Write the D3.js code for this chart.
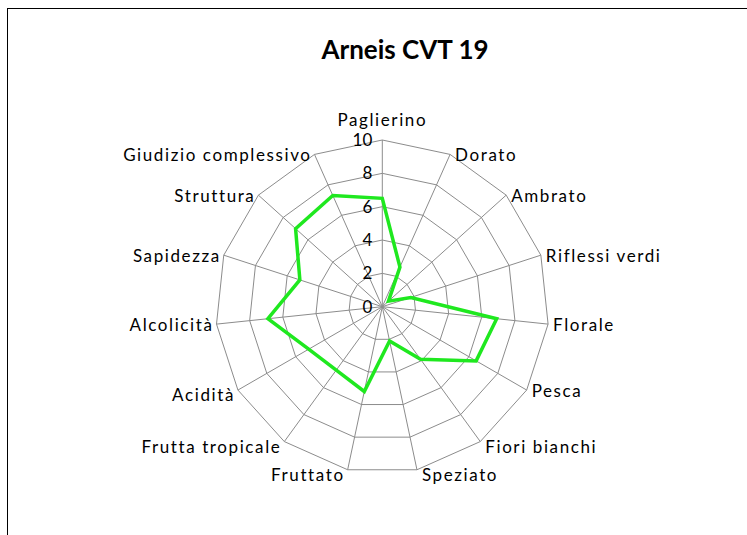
<!DOCTYPE html>
<html>
<head>
<meta charset="utf-8">
<script src="https://cdn.jsdelivr.net/npm/d3@7"></script>
<style>
  body { margin: 0; background: #fff; }
  text { font-family: Lato, "Open Sans", sans-serif; fill: #000; }
</style>
</head>
<body>
<svg width="747" height="535"></svg>
<script>
var categories = ["Paglierino", "Dorato", "Ambrato", "Riflessi verdi", "Florale", "Pesca",
  "Fiori bianchi", "Speziato", "Fruttato", "Frutta tropicale", "Acidità", "Alcolicità",
  "Sapidezza", "Struttura", "Giudizio complessivo"];
var values = [6.5, 2.6, 0.5, 1.8, 6.9, 6.5, 3.9, 2.1, 5.2, 4.7, 5.1, 6.9, 5.2, 7.0, 7.3];
var ticks = [0, 2, 4, 6, 8, 10];
var title = "Arneis CVT 19";

var svg = d3.select("svg"),
    cx = 382.3,
    cy = 306.7,
    radius = 166.7;

// chart border, runs off the right and bottom edges
svg.append("rect")
  .attr("x", 7.5).attr("y", 8.5)
  .attr("width", 800).attr("height", 600)
  .attr("fill", "none").attr("stroke", "#000").attr("stroke-width", 1);

svg.append("text")
  .attr("x", 405).attr("y", 59)
  .attr("text-anchor", "middle")
  .style("font-size", "26px").style("font-weight", "bold")
  .text(title);

var g = svg.append("g").attr("transform", "translate(" + cx + "," + cy + ")");

var angle = d3.scaleBand().domain(categories).range([0, 2 * Math.PI]).align(0);
var r = d3.scaleLinear().domain([0, 10]).range([0, radius]);

function px(c, v) { return r(v) * Math.sin(angle(c)); }
function py(c, v) { return -r(v) * Math.cos(angle(c)); }

// grid polygons
g.selectAll(".ring")
  .data(ticks.slice(1))
  .enter().append("path")
    .attr("fill", "none").attr("stroke", "#8c8c8c").attr("stroke-width", 1)
    .attr("d", function(t) {
      return d3.lineRadial()
        .angle(function(c) { return angle(c); })
        .radius(r(t))
        .curve(d3.curveLinearClosed)(categories);
    });

// spokes
g.selectAll(".spoke")
  .data(categories)
  .enter().append("line")
    .attr("x1", 0).attr("y1", 0)
    .attr("x2", function(c) { return px(c, 10); })
    .attr("y2", function(c) { return py(c, 10); })
    .attr("stroke", "#8c8c8c").attr("stroke-width", 1);

// tick labels
g.selectAll(".tick")
  .data(ticks)
  .enter().append("text")
    .attr("x", -10)
    .attr("y", function(t) { return -r(t); })
    .attr("dy", "0.35em")
    .attr("text-anchor", "end")
    .style("font-size", "17px")
    .text(function(t) { return t; });

// category labels
g.selectAll(".cat")
  .data(categories)
  .enter().append("text")
    .attr("x", function(c) {
      var s = Math.sin(angle(c));
      return px(c, 10) + (Math.abs(s) < 0.05 ? 0 : (s > 0 ? 5 : -3));
    })
    .attr("y", function(c) {
      var k = Math.cos(angle(c));
      return py(c, 10) + (k > 0.95 ? -20 : (k < -0.5 ? 5 : 1));
    })
    .attr("dy", "0.35em")
    .attr("text-anchor", function(c) {
      var s = Math.sin(angle(c));
      return Math.abs(s) < 0.05 ? "middle" : (s > 0 ? "start" : "end");
    })
    .style("font-size", "17px")
    .style("letter-spacing", "1.6px")
    .text(function(c) { return c; });

// series
g.append("path")
  .datum(values)
  .attr("fill", "none")
  .attr("stroke", "#1fe81f")
  .attr("stroke-width", 3.5)
  .attr("stroke-linejoin", "miter")
  .attr("d", d3.lineRadial()
    .angle(function(d, i) { return angle(categories[i]); })
    .radius(function(d) { return r(d); })
    .curve(d3.curveLinearClosed));
</script>
</body>
</html>
